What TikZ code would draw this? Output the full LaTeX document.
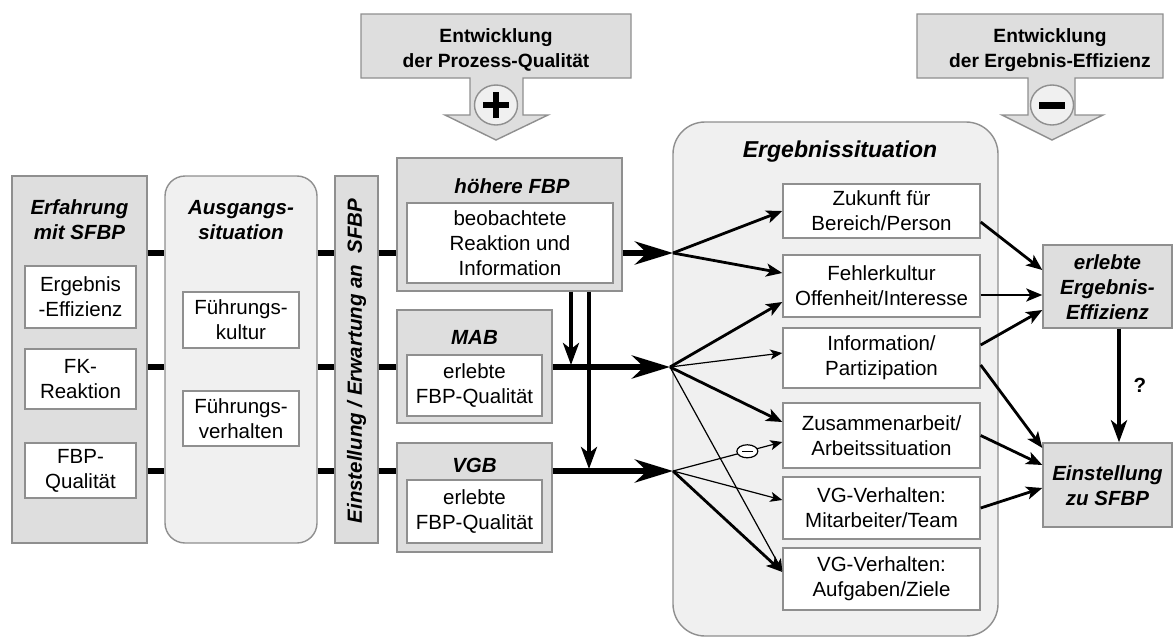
\documentclass[tikz,border=0pt]{standalone}
\usepackage{fontspec}
\setmainfont{Liberation Sans}
\usetikzlibrary{arrows.meta,shapes.geometric,fit}
\definecolor{boxgray}{HTML}{DEDEDE}
\definecolor{boxlight}{HTML}{F0F0F0}
\definecolor{boxline}{HTML}{8F8F8F}
\tikzset{
  every node/.style={font=\fontsize{10.25}{12.5}\selectfont},
  graybox/.style={draw=boxline, fill=boxgray, line width=0.7pt},
  lightbox/.style={draw=boxline, fill=boxlight, line width=0.7pt, rounded corners=10pt},
  inbox/.style={draw=boxline, fill=white, line width=0.7pt, align=center, inner sep=0pt},
  ttl/.style={font=\fontsize{10.25}{12.5}\selectfont\bfseries\itshape, align=center},
  headtxt/.style={font=\fontsize{9.6}{12.5}\selectfont\bfseries, align=center},
  signmark/.style={ellipse, draw=boxline, fill=boxlight, line width=0.7pt, minimum width=21.5pt, minimum height=20pt, inner sep=0pt},
  negmark/.style={ellipse, draw, fill=white, line width=0.6pt, minimum width=10.5pt, minimum height=6.5pt, inner sep=0pt},
  bar/.style={line width=3pt},
  bigarr/.style={line width=3pt, -{Stealth[length=19pt,width=11.5pt,inset=6pt]}},
  downarr/.style={line width=2pt, -{Stealth[length=11pt,width=8pt,inset=3pt]}},
  midarr/.style={line width=1.4pt, -{Stealth[length=8pt,width=6.5pt,inset=2pt]}},
  thinarr/.style={line width=0.6pt, -{Stealth[length=6pt,width=5pt,inset=1.5pt]}},
}
\begin{document}
\begin{tikzpicture}[x=0.5pt,y=-0.5pt]
\useasboundingbox (0,0) rectangle (1173,637);

% top: development arrows
\draw[graybox] (361,14) -- (631,14) -- (631,78) -- (523,78) -- (523,115) -- (548,115) -- (496,140)
  -- (445,115) -- (470,115) -- (470,78) -- (361,78) -- cycle;
\node[headtxt] (epq) at (496,50) {Entwicklung\\der Prozess-Qualität};
\node[signmark] (plus) at (496,105) {};
\draw[line width=3pt] ([xshift=-6.5pt]plus.center) -- ([xshift=6.5pt]plus.center);
\draw[line width=3pt] ([yshift=-6.5pt]plus.center) -- ([yshift=6.5pt]plus.center);

\draw[graybox] (917,14) -- (1163,14) -- (1163,78) -- (1075,78) -- (1075,115) -- (1103,115) -- (1052,140)
  -- (1002,115) -- (1028,115) -- (1028,78) -- (917,78) -- cycle;
\node[headtxt] (eee) at (1050,50) {Entwicklung\\der Ergebnis-Effizienz};
\node[signmark] (minus) at (1052,105) {};
\draw[line width=3.5pt] ([xshift=-6.5pt]minus.center) -- ([xshift=6.5pt]minus.center);

% left columns
\node[graybox, fit={(12,176)(147,543)}, inner sep=0pt] (erf) {};
\node[ttl] (erf-t) at (79.5,220) {Erfahrung\\mit SFBP};
\node[inbox, minimum width=55.5pt, minimum height=31pt] (ee) at (80.5,297) {Ergebnis\\-Effizienz};
\node[inbox, minimum width=55.5pt, minimum height=30pt] (fkr) at (80.5,379) {FK-\\Reaktion};
\node[inbox, minimum width=55.5pt, minimum height=27.5pt] (fbq) at (80.5,470.5) {FBP-\\Qualität};

\node[lightbox, fit={(165,176)(317,543)}, inner sep=0pt] (aus) {};
\node[ttl] (aus-t) at (241,220) {Ausgangs-\\situation};
\node[inbox, minimum width=58pt, minimum height=28pt] (fku) at (241,320) {Führungs-\\kultur};
\node[inbox, minimum width=58pt, minimum height=27.5pt] (fve) at (241,418.5) {Führungs-\\verhalten};

\node[graybox, fit={(335,176)(378,543)}, inner sep=0pt] (einst) {};
\node[ttl, rotate=90] (einst-t) at (356.5,361) {Einstellung / Erwartung an\ \ SFBP};

% perception boxes
\node[graybox, fit={(397,158)(622,291)}, inner sep=0pt] (hfbp) {};
\node[ttl] (hfbp-t) at (512,186) {höhere FBP};
\node[inbox, minimum width=103pt, minimum height=40pt] (bri) at (510,243) {beobachtete\\Reaktion und\\Information};

\node[graybox, fit={(397,310)(552,423)}, inner sep=0pt] (mab) {};
\node[ttl] (mab-t) at (474.5,337) {MAB};
\node[inbox, minimum width=67.5pt, minimum height=30.5pt] (mabq) at (474.5,385.5) {erlebte\\FBP-Qualität};

\node[graybox, fit={(397,443)(552,552)}, inner sep=0pt] (vgb) {};
\node[ttl] (vgb-t) at (474.5,465) {VGB};
\node[inbox, minimum width=67.5pt, minimum height=31.5pt] (vgbq) at (474.5,511.5) {erlebte\\FBP-Qualität};

% result situation
\node[lightbox, rounded corners=16pt, fit={(673,122)(998,636)}, inner sep=0pt] (erg) {};
\node[ttl, font=\fontsize{11.5}{14}\selectfont\bfseries\itshape] (erg-t) at (840,152) {Ergebnissituation};
\node[inbox, minimum width=98.5pt, minimum height=27pt] (zuk) at (881.5,211) {Zukunft für\\Bereich/Person};
\node[inbox, minimum width=98.5pt, minimum height=31pt] (fk) at (881.5,286) {Fehlerkultur\\Offenheit/Interesse};
\node[inbox, minimum width=98.5pt, minimum height=30pt] (info) at (881.5,358) {Information/\\Partizipation};
\node[inbox, minimum width=98.5pt, minimum height=32.5pt] (zus) at (881.5,435.5) {Zusammenarbeit/\\Arbeitssituation};
\node[inbox, minimum width=98.5pt, minimum height=31pt] (mit) at (881.5,508) {VG-Verhalten:\\Mitarbeiter/Team};
\node[inbox, minimum width=98.5pt, minimum height=31pt] (auf) at (881.5,579) {VG-Verhalten:\\Aufgaben/Ziele};

% right boxes
\node[graybox, fit={(1043,245)(1172,328)}, inner sep=0pt] (erl) {};
\node[ttl] (erl-t) at (1107.5,287.5) {erlebte\\Ergebnis-\\Effizienz};
\node[graybox, fit={(1043,443)(1172,527)}, inner sep=0pt] (ein) {};
\node[ttl] (ein-t) at (1107.5,485.5) {Einstellung\\zu SFBP};

% rows and hubs
\coordinate (r1) at (0,253);
\coordinate (r2) at (0,367);
\coordinate (r3) at (0,471);
\coordinate (h1) at (673,253);
\coordinate (h2) at (670,367);
\coordinate (h3) at (673,471);

\foreach \r in {r1,r2,r3} {
  \draw[bar] (erf.east |- \r) -- (aus.west |- \r);
  \draw[bar] (aus.east |- \r) -- (einst.west |- \r);
}
\foreach \r/\b in {r1/hfbp, r2/mab, r3/vgb}
  \draw[bar] (einst.east |- \r) -- (\b.west |- \r);

\draw[bigarr] (hfbp.east |- r1) -- (h1);
\draw[bigarr] (mab.east |- r2) -- (h2);
\draw[bigarr] (vgb.east |- r3) -- (h3);

\draw[downarr, shorten >=1pt] ([xshift=30.75pt]hfbp.south) -- ([xshift=30.75pt]hfbp.south |- r2);
\draw[downarr, shorten >=1pt] ([xshift=39.75pt]hfbp.south) -- ([xshift=39.75pt]hfbp.south |- r3);

% hubs to result boxes
\draw[midarr] (h1) -- (zuk.west);
\draw[midarr] (h1) -- ([yshift=6.5pt]fk.west);
\draw[midarr] (h2) -- ([yshift=-8pt]fk.west);
\draw[thinarr] (h2) -- ([yshift=2.5pt]info.west);
\draw[midarr] (h2) -- ([yshift=6.75pt]zus.west);
\draw[thinarr] (h2) -- ([yshift=4pt]auf.west);
\draw[thinarr] (h3) -- node[negmark, pos=.68] (neg) {} ([yshift=-3.25pt]zus.west);
\draw[line width=0.6pt] ([xshift=-2.6pt]neg.center) -- ([xshift=2.6pt]neg.center);
\draw[thinarr] (h3) -- ([yshift=4pt]mit.west);
\draw[midarr] (h3) -- ([yshift=3.5pt]auf.west);

% result boxes to right
\draw[midarr] ([yshift=-5.5pt]zuk.east) -- ([yshift=8.25pt]erl.west);
\draw[midarr] ([yshift=-4.5pt]fk.east) -- ([yshift=-4.5pt]fk.east -| erl.west);
\draw[midarr] ([yshift=6.5pt]info.east) -- ([yshift=-11.75pt]erl.west);
\draw[midarr] ([yshift=-3.5pt]info.east) -- ([yshift=18.5pt]ein.west);
\draw[midarr] (zus.east) -- ([yshift=10pt]ein.west);
\draw[midarr] (mit.east) -- ([yshift=-1.5pt]ein.west);
\draw[downarr] ([xshift=5.75pt]erl.south) -- node[right=3pt, font=\fontsize{10.25}{12.5}\selectfont\bfseries] (q) {?} ([xshift=5.75pt]ein.north);
\end{tikzpicture}
\end{document}
